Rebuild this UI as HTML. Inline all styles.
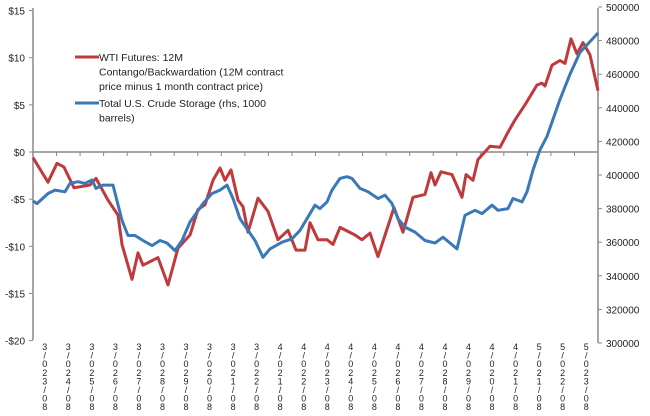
<!DOCTYPE html>
<html><head><meta charset="utf-8"><style>
html,body{margin:0;padding:0;background:#fff;width:650px;height:416px;overflow:hidden}
svg{display:block;font-family:"Liberation Sans",sans-serif}
</style></head><body>
<svg id="chart" width="650" height="416"></svg>
<script>
const catLabels=["3/023/08","3/024/08","3/025/08","3/026/08","3/027/08","3/028/08","3/029/08","3/020/08","3/021/08","3/022/08","4/021/08","4/022/08","4/023/08","4/024/08","4/025/08","4/026/08","4/027/08","4/028/08","4/029/08","4/020/08","4/021/08","5/021/08","5/022/08","5/023/08"];
const leftTicks=[15,10,5,0,-5,-10,-15,-20];
const rightTicks=[500000,480000,460000,440000,420000,400000,380000,360000,340000,320000,300000];
const redWeeks=[0,3,4.8,6.2,8.2,11.4,12.6,15,17,17.8,19.8,21,22,25,27,29,31.4,33,34.4,36,37.4,38.4,39.6,41,42,43,45,47,49,51,52.6,54.4,55.4,57,58.8,60,61.4,64.4,65.8,67.4,69,72.2,74,76,78.4,79.6,80.4,81.6,83.8,85.8,86.6,88,89,91.4,93.4,95,96.4,98.4,100.8,101.8,102.4,103.8,105.4,106.4,107.6,108.8,110,111.4,113];
const redValues=[-0.6,-3.2,-1.2,-1.6,-3.8,-3.5,-2.8,-5.1,-6.7,-9.8,-13.5,-10.7,-12,-11.2,-14.1,-10.2,-8.8,-6.1,-5.6,-3,-1.7,-3,-1.9,-5.1,-5.8,-8.5,-4.9,-6.3,-9.3,-8.3,-10.4,-10.4,-7.5,-9.3,-9.3,-9.8,-8,-8.8,-9.3,-8.6,-11.1,-5.9,-8.5,-4.8,-4.5,-2.2,-3.5,-2.1,-2.4,-4.8,-2.4,-3,-0.8,0.6,0.5,2.1,3.4,5,7.1,7.3,7,9.2,9.7,9.4,12,10.4,11.6,10.3,6.5];
const blueWeeks=[0,0.8,3,4.4,6.4,7.4,9,10.4,11.8,12.6,14,16,17.8,19,20.4,22,23.8,25.4,26.8,28.4,29.8,31.4,34,35.8,37.4,38.8,40,41.4,44.4,46,47.4,49.8,51.8,53.4,56.4,57.4,58.8,59.8,61.4,62.8,63.8,65.4,67,69,70.4,71.8,73,74.4,76.4,78.4,80.4,82,84.8,86.4,88.4,89.8,91.8,93,95,96,97.8,98.8,100,101.4,102.8,105.4,107.4,109.4,113];
const blueValues=[384.5,383,389,391,390,395,396,395,397,392,394,394,373,364,364,361,358,361,359.5,355,361,372,383,389,391,394,386,374,361,351,356,360,362,367,382,380,384,391,398,399,398,392,390,386,388,383,374,369,366,361,359.5,363,356,376,379,377,382,379,380,386,384,390,403,415,423,445,460,473,484.5];

const NS="http://www.w3.org/2000/svg";
const svg=document.getElementById('chart');
const X0=33,X1=598;
const xW=w=>X0+(X1-X0)*w/113;
const yL=v=>152-v*9.43;
const yR=v=>343-(v-300000)*336/200000;
function mk(tag,attrs,parent){const e=document.createElementNS(NS,tag);for(const k in attrs)e.setAttribute(k,attrs[k]);(parent||svg).appendChild(e);return e;}

// axes
let a=mk('line',{x1:X0,y1:8,x2:X0,y2:340,stroke:'#888','stroke-width':1.5});


a=mk('line',{x1:X1,y1:8,x2:X1,y2:343,stroke:'#888','stroke-width':1.5});


a=mk('line',{x1:X0,y1:152,x2:X1,y2:152,stroke:'#888','stroke-width':1.5});



leftTicks.forEach(v=>{
  const y=yL(v);
  mk('line',{x1:X0-4,y1:y,x2:X0,y2:y,stroke:'#888'});
  const t=mk('text',{x:X0-8,y:y+4,'text-anchor':'end','font-size':10,fill:'#222'});
  t.textContent=(v<0?'-':'')+'$'+Math.abs(v);
  
  
});
rightTicks.forEach(v=>{
  const y=yR(v);
  mk('line',{x1:X1,y1:y,x2:X1+4,y2:y,stroke:'#888'});
  const t=mk('text',{x:X1+8,y:y+4,'font-size':10,fill:'#222'});
  t.textContent=v;
  
  
});
const step=(X1-X0)/catLabels.length;
for(let i=0;i<=catLabels.length;i++){mk('line',{x1:X0+i*step,y1:152,x2:X0+i*step,y2:156,stroke:'#888'});}
catLabels.forEach((s,i)=>{
  const cx=X0+(i+0.5)*step;
  const g=mk('text',{'font-size':9,fill:'#222','text-anchor':'middle'});
  
  
  [...s].forEach((c,j)=>{const ts=mk('tspan',{x:cx,y:350+j*8.6},g);ts.textContent=c;});
});

function line(ws,vs,fy,color,name){
  const d=ws.map((w,i)=>(i?'L':'M')+xW(w).toFixed(1)+','+fy(vs[i]).toFixed(1)).join('');
  const p=mk('path',{d:d,fill:'none',stroke:color,'stroke-width':3,'stroke-linejoin':'round'});
  
  
}
line(redWeeks,redValues,yL,'#c0393b','wti-contango-line');
line(blueWeeks,blueValues.map(v=>v*1000),yR,'#3a78b8','crude-storage-line');

// legend
const lg=mk('g',{});


mk('line',{x1:75,y1:57,x2:99,y2:57,stroke:'#c0393b','stroke-width':3},lg);
mk('line',{x1:75,y1:103,x2:99,y2:103,stroke:'#3a78b8','stroke-width':3},lg);
const lt=[[99,61,'WTI Futures: 12M'],[99,75.5,'Contango/Backwardation (12M contract'],[99,90,'price minus 1 month contract price)'],[99,107,'Total U.S. Crude Storage (rhs, 1000'],[99,121.5,'barrels)']];
lt.forEach(r=>{const t=mk('text',{x:r[0],y:r[1],'font-size':10.5,fill:'#222'},lg);t.textContent=r[2];});
</script>
</body></html>
